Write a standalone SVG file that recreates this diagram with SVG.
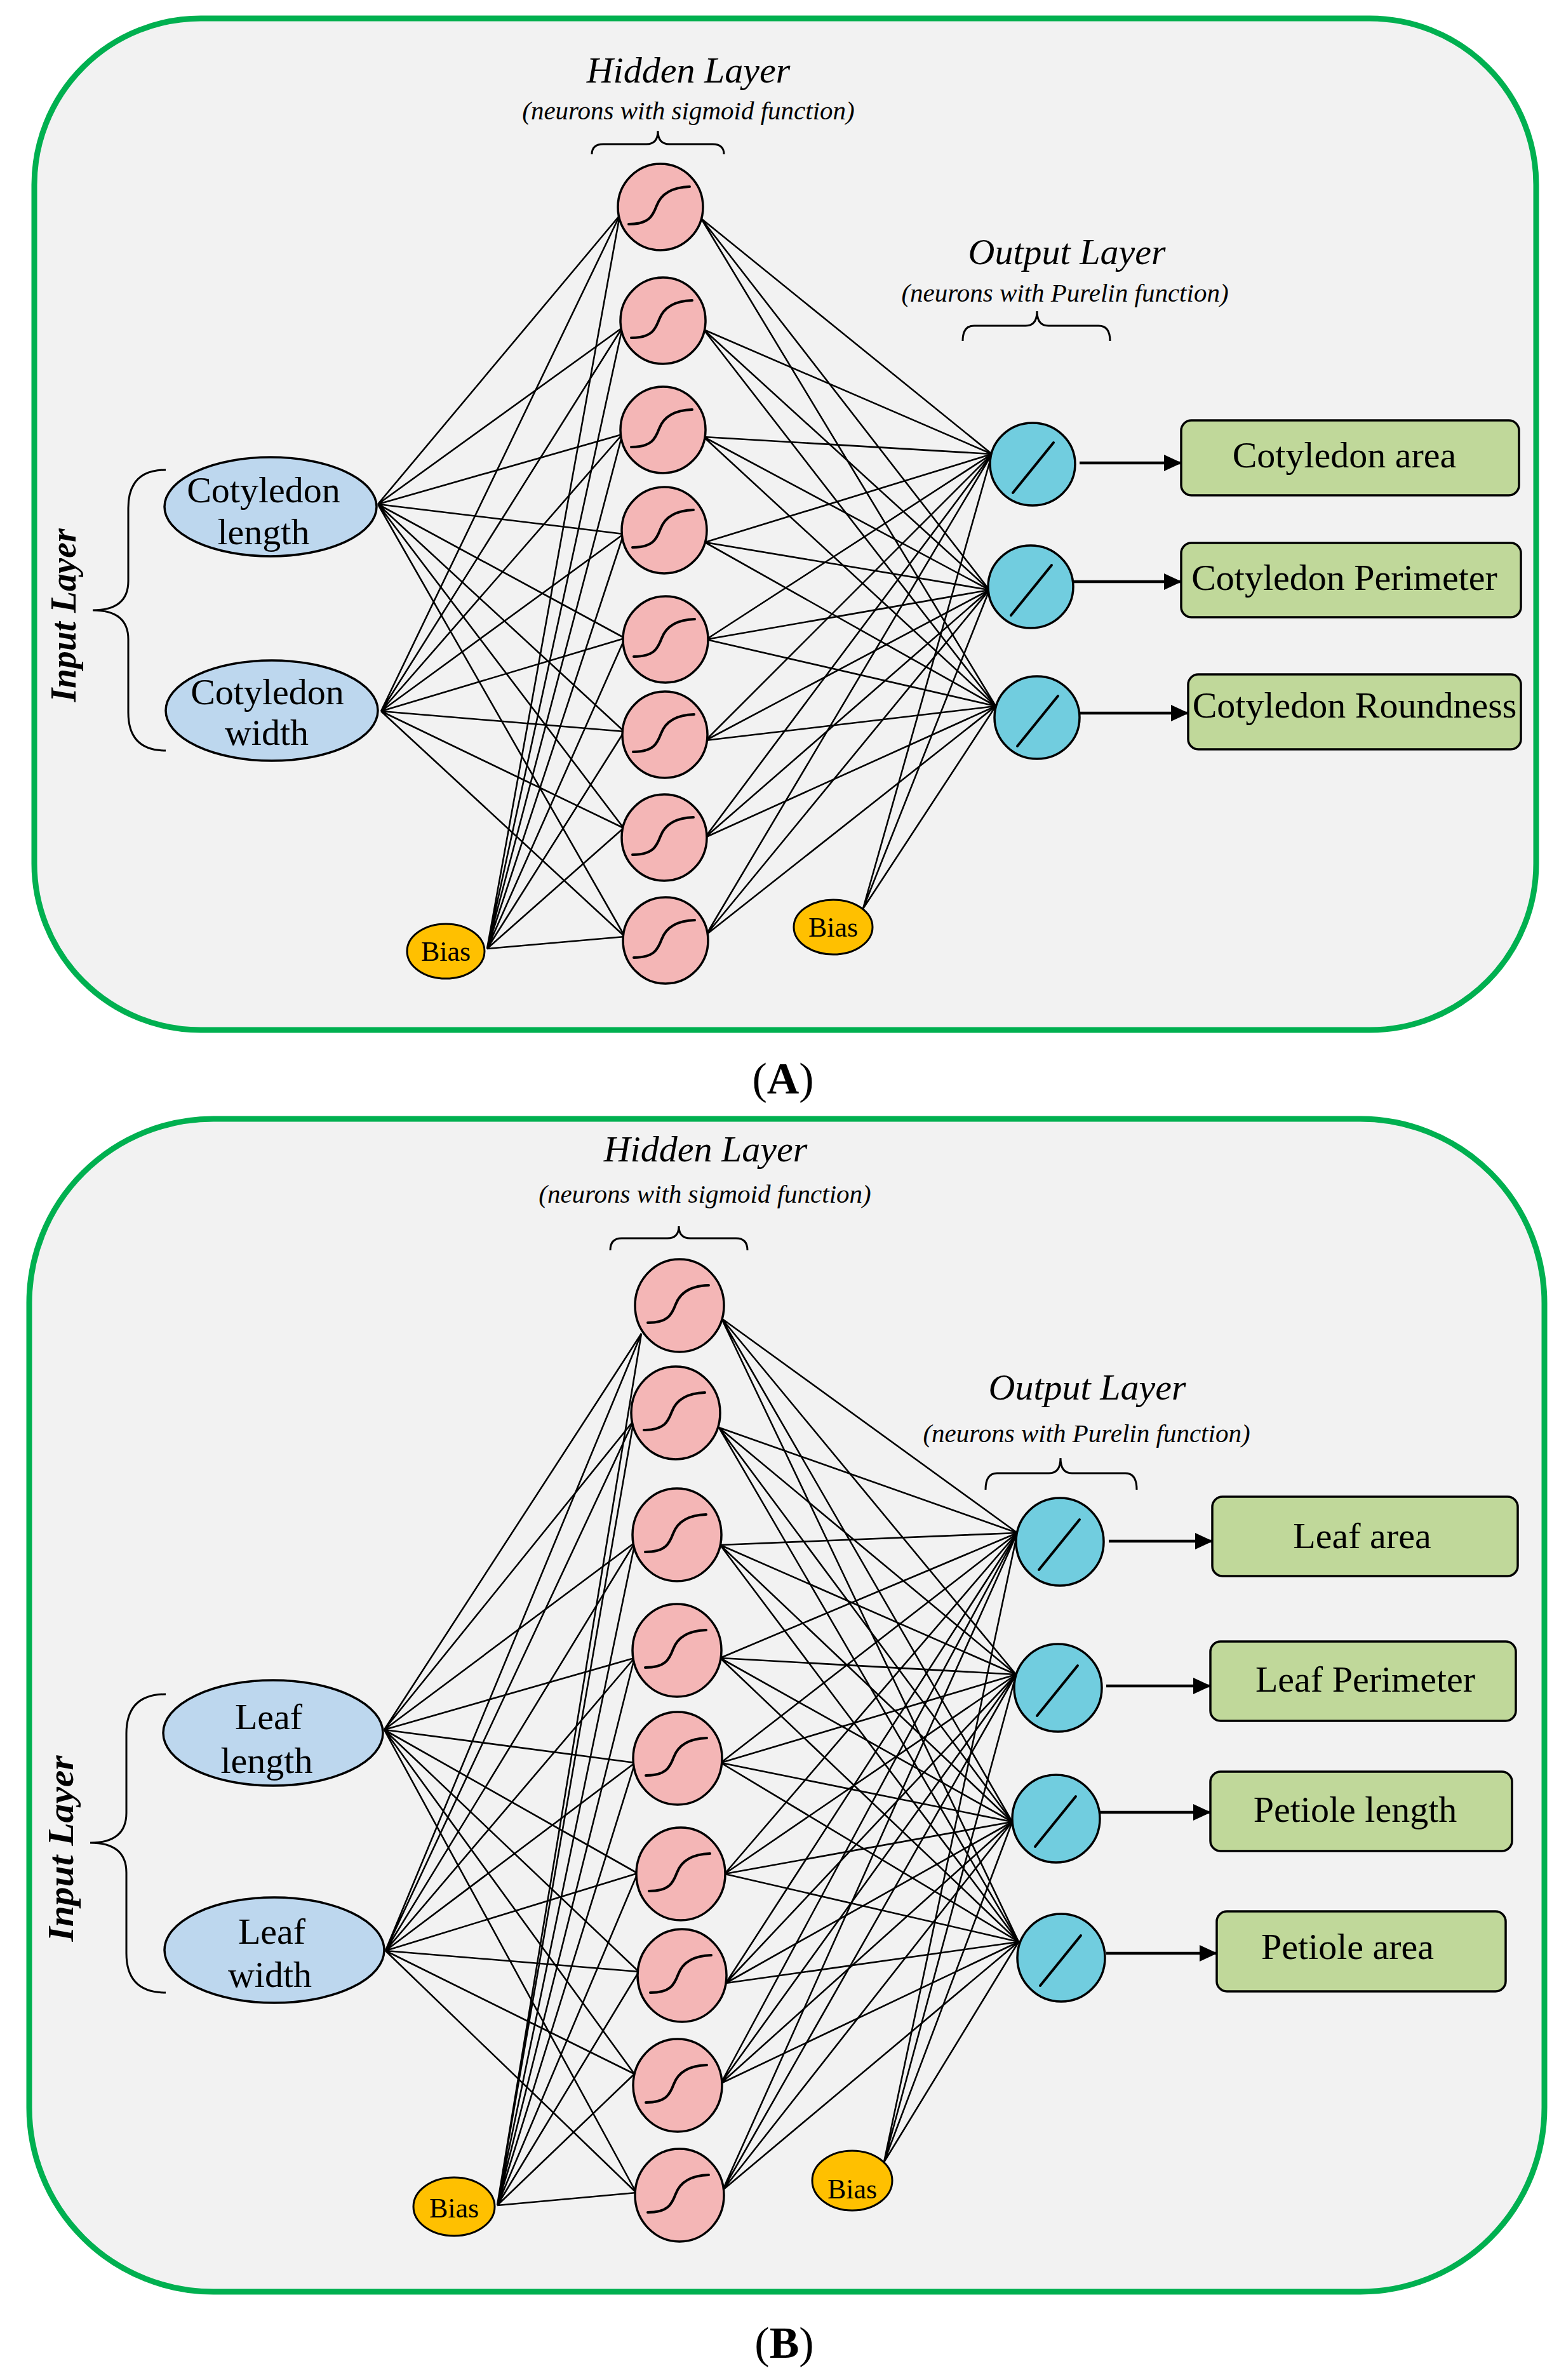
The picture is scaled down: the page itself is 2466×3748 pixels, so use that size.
<svg xmlns="http://www.w3.org/2000/svg" xmlns:xlink="http://www.w3.org/1999/xlink" width="2466" height="3748" viewBox="0 0 2466 3748">
<style>
.panel{fill:#f2f2f2;stroke:#00b050;stroke-width:9}
.inp{fill:#bdd7ee;stroke:#000;stroke-width:3.5}
.hid{fill:#f4b6b6;stroke:#000;stroke-width:3.5}
.out{fill:#71cddf;stroke:#000;stroke-width:3.5}
.bias{fill:#ffc000;stroke:#000;stroke-width:3}
.box{fill:#c0d89a;stroke:#000;stroke-width:3.5}
.fn{fill:none;stroke:#000;stroke-width:4;stroke-linecap:round}
.con{fill:none;stroke:#000;stroke-width:2.6}
.arrow{fill:none;stroke:#000;stroke-width:4.5}
.brace{fill:none;stroke:#000;stroke-width:3}
text{font-family:"Liberation Serif","Times New Roman",serif;fill:#000}
.lbl{font-size:58px;text-anchor:middle}
.ttl{font-size:58px;font-style:italic;text-anchor:middle}
.sub{font-size:41px;font-style:italic;text-anchor:middle}
.bt{font-size:44px;text-anchor:middle}
.il{font-size:56px;font-style:italic;font-weight:bold;text-anchor:middle}
.cap{font-size:70px;text-anchor:middle}
</style>
<defs>
<path id="sig" class="fn" d="M-50 27 C-18 27 -12 14 -6 -2 C0 -18 14 -31 46 -32"/>
<path id="lin" class="fn" d="M-32 42 L32 -37"/>
<marker id="arr" markerUnits="userSpaceOnUse" markerWidth="28" markerHeight="26" refX="27" refY="13" orient="auto"><path d="M0 0 L28 13 L0 26 z" fill="#000"/></marker>
</defs>
<rect width="2466" height="3748" fill="#fff"/>

<!-- ============ PANEL A ============ -->
<g id="panelA">
<rect class="panel" x="54" y="29" width="2365" height="1593" rx="262" ry="262"/>
</g>
<g id="a-hidden-title">
<text class="ttl" x="1084" y="130">Hidden Layer</text>
<text class="sub" x="1084" y="188">(neurons with sigmoid function)</text>
<path class="brace" d="M932 243 Q932 227 950 227 L1018 227 Q1036 227 1036 206 Q1036 227 1054 227 L1122 227 Q1140 227 1140 243"/>
</g>
<g id="a-output-title">
<text class="ttl" x="1680" y="416">Output Layer</text>
<text class="sub" x="1677" y="475">(neurons with Purelin function)</text>
<path class="brace" d="M1516 537 Q1516 513 1534 513 L1615 513 Q1633 513 1633 490 Q1633 513 1651 513 L1730 513 Q1748 513 1748 537"/>
</g>
<g id="a-input-title">
<path class="brace" d="M261 740 Q202 740 202 800 L202 915 Q202 961 146 961 Q202 961 202 1007 L202 1122 Q202 1182 261 1182"/>
<text class="il" transform="translate(119 969) rotate(-90)" textLength="273" lengthAdjust="spacingAndGlyphs">Input Layer</text>
</g>

<g id="a-connectors">
<path class="con" d="M595 794 L976 339 M595 794 L980 516 M595 794 L980 684 M595 794 L982 841 M595 794 L984 1005 M595 794 L983 1152 M595 794 L982 1304 M595 794 L984 1475"/>
<path class="con" d="M600 1120 L976 339 M600 1120 L980 516 M600 1120 L980 684 M600 1120 L982 841 M600 1120 L984 1005 M600 1120 L983 1152 M600 1120 L982 1304 M600 1120 L984 1475"/>
<path class="con" d="M767 1494 L976 339 M767 1494 L980 516 M767 1494 L980 684 M767 1494 L982 841 M767 1494 L984 1005 M767 1494 L983 1152 M767 1494 L982 1304 M767 1494 L984 1475"/>
<path class="con" d="M1104 344 L1562 715 M1104 344 L1558 929 M1104 344 L1568 1112"/>
<path class="con" d="M1108 519 L1562 715 M1108 519 L1558 929 M1108 519 L1568 1112"/>
<path class="con" d="M1108 688 L1562 715 M1108 688 L1558 929 M1108 688 L1568 1112"/>
<path class="con" d="M1110 854 L1562 715 M1110 854 L1558 929 M1110 854 L1568 1112"/>
<path class="con" d="M1112 1007 L1562 715 M1112 1007 L1558 929 M1112 1007 L1568 1112"/>
<path class="con" d="M1111 1166 L1562 715 M1111 1166 L1558 929 M1111 1166 L1568 1112"/>
<path class="con" d="M1110 1319 L1562 715 M1110 1319 L1558 929 M1110 1319 L1568 1112"/>
<path class="con" d="M1112 1472 L1562 715 M1112 1472 L1558 929 M1112 1472 L1568 1112"/>
<path class="con" d="M1359 1431 L1562 715 M1359 1431 L1558 929 M1359 1431 L1568 1112"/>
<line class="arrow" x1="1700" y1="729" x2="1860" y2="729" marker-end="url(#arr)"/>
<line class="arrow" x1="1691" y1="916" x2="1860" y2="916" marker-end="url(#arr)"/>
<line class="arrow" x1="1700" y1="1123" x2="1871" y2="1123" marker-end="url(#arr)"/>
</g>

<g id="a-in1"><ellipse class="inp" cx="426" cy="798" rx="167" ry="78"/><text class="lbl" x="415" y="791">Cotyledon</text><text class="lbl" x="415" y="857">length</text></g>
<g id="a-in2"><ellipse class="inp" cx="428" cy="1119" rx="167" ry="79"/><text class="lbl" x="421" y="1109">Cotyledon</text><text class="lbl" x="420" y="1173">width</text></g>

<g id="a-h1"><ellipse class="hid" cx="1040" cy="326" rx="67" ry="68"/><use href="#sig" x="1040" y="326"/></g>
<g id="a-h2"><ellipse class="hid" cx="1044" cy="505" rx="67" ry="68"/><use href="#sig" x="1044" y="505"/></g>
<g id="a-h3"><ellipse class="hid" cx="1044" cy="677" rx="67" ry="68"/><use href="#sig" x="1044" y="677"/></g>
<g id="a-h4"><ellipse class="hid" cx="1046" cy="835" rx="67" ry="68"/><use href="#sig" x="1046" y="835"/></g>
<g id="a-h5"><ellipse class="hid" cx="1048" cy="1007" rx="67" ry="68"/><use href="#sig" x="1048" y="1007"/></g>
<g id="a-h6"><ellipse class="hid" cx="1047" cy="1157" rx="67" ry="68"/><use href="#sig" x="1047" y="1157"/></g>
<g id="a-h7"><ellipse class="hid" cx="1046" cy="1319" rx="67" ry="68"/><use href="#sig" x="1046" y="1319"/></g>
<g id="a-h8"><ellipse class="hid" cx="1048" cy="1481" rx="67" ry="68"/><use href="#sig" x="1048" y="1481"/></g>

<g id="a-bias1"><ellipse class="bias" cx="702" cy="1498" rx="61" ry="43"/><text class="bt" x="702" y="1513">Bias</text></g>
<g id="a-bias2"><ellipse class="bias" cx="1312" cy="1460" rx="62" ry="43"/><text class="bt" x="1312" y="1475">Bias</text></g>

<g id="a-o1"><ellipse class="out" cx="1626" cy="731" rx="67" ry="65"/><use href="#lin" x="1627" y="734"/></g>
<g id="a-o2"><ellipse class="out" cx="1623" cy="924" rx="67" ry="65"/><use href="#lin" x="1624" y="927"/></g>
<g id="a-o3"><ellipse class="out" cx="1633" cy="1130" rx="67" ry="65"/><use href="#lin" x="1634" y="1133"/></g>

<g id="a-r1"><rect class="box" x="1860" y="662" width="532" height="118" rx="16"/><text class="lbl" x="2117" y="736">Cotyledon area</text></g>
<g id="a-r2"><rect class="box" x="1860" y="855" width="535" height="117" rx="16"/><text class="lbl" x="2117" y="929">Cotyledon Perimeter</text></g>
<g id="a-r3"><rect class="box" x="1871" y="1062" width="524" height="118" rx="16"/><text class="lbl" x="2133" y="1130">Cotyledon Roundness</text></g>

<g id="capA"><text class="cap" x="1233" y="1722">(<tspan font-weight="bold">A</tspan>)</text></g>

<!-- ============ PANEL B ============ -->
<g id="panelB">
<rect class="panel" x="46" y="1762" width="2386" height="1847" rx="290" ry="290"/>
</g>
<g id="b-hidden-title">
<text class="ttl" x="1111" y="1829" font-size="59">Hidden Layer</text>
<text class="sub" x="1110" y="1894" font-size="42">(neurons with sigmoid function)</text>
<path class="brace" d="M961 1969 Q961 1950 979 1950 L1051 1950 Q1069 1950 1069 1931 Q1069 1950 1087 1950 L1159 1950 Q1177 1950 1177 1969"/>
</g>
<g id="b-output-title">
<text class="ttl" x="1712" y="2204" font-size="59">Output Layer</text>
<text class="sub" x="1711" y="2271" font-size="42">(neurons with Purelin function)</text>
<path class="brace" d="M1552 2346 Q1552 2320 1570 2320 L1652 2320 Q1670 2320 1670 2296 Q1670 2320 1688 2320 L1772 2320 Q1790 2320 1790 2346"/>
</g>
<g id="b-input-title">
<path class="brace" d="M261 2668 Q199 2668 199 2730 L199 2855 Q199 2902 142 2902 Q199 2902 199 2949 L199 3076 Q199 3138 261 3138"/>
<text class="il" transform="translate(115 2911) rotate(-90)" font-size="58" textLength="293" lengthAdjust="spacingAndGlyphs">Input Layer</text>
</g>

<g id="b-connectors">
<path class="con" d="M605 2724 L1010 2100 M605 2724 L998 2237 M605 2724 L1000 2429 M605 2724 L999 2611 M605 2724 L1000 2776 M605 2724 L1004 2950 M605 2724 L1006 3105 M605 2724 L999 3266 M605 2724 L1002 3453"/>
<path class="con" d="M607 3072 L1010 2100 M607 3072 L998 2237 M607 3072 L1000 2429 M607 3072 L999 2611 M607 3072 L1000 2776 M607 3072 L1004 2950 M607 3072 L1006 3105 M607 3072 L999 3266 M607 3072 L1002 3453"/>
<path class="con" d="M783 3473 L1010 2100 M783 3473 L998 2237 M783 3473 L1000 2429 M783 3473 L999 2611 M783 3473 L1000 2776 M783 3473 L1004 2950 M783 3473 L1006 3105 M783 3473 L999 3266 M783 3473 L1002 3453"/>
<path class="con" d="M1136 2076 L1602 2414 M1136 2076 L1600 2637 M1136 2076 L1594 2869 M1136 2076 L1604 3058"/>
<path class="con" d="M1132 2248 L1602 2414 M1132 2248 L1600 2637 M1132 2248 L1594 2869 M1132 2248 L1604 3058"/>
<path class="con" d="M1134 2433 L1602 2414 M1134 2433 L1600 2637 M1134 2433 L1594 2869 M1134 2433 L1604 3058"/>
<path class="con" d="M1134 2611 L1602 2414 M1134 2611 L1600 2637 M1134 2611 L1594 2869 M1134 2611 L1604 3058"/>
<path class="con" d="M1135 2776 L1602 2414 M1135 2776 L1600 2637 M1135 2776 L1594 2869 M1135 2776 L1604 3058"/>
<path class="con" d="M1141 2951 L1602 2414 M1141 2951 L1600 2637 M1141 2951 L1594 2869 M1141 2951 L1604 3058"/>
<path class="con" d="M1143 3123 L1602 2414 M1143 3123 L1600 2637 M1143 3123 L1594 2869 M1143 3123 L1604 3058"/>
<path class="con" d="M1135 3281 L1602 2414 M1135 3281 L1600 2637 M1135 3281 L1594 2869 M1135 3281 L1604 3058"/>
<path class="con" d="M1138 3449 L1602 2414 M1138 3449 L1600 2637 M1138 3449 L1594 2869 M1138 3449 L1604 3058"/>
<path class="con" d="M1392 3405 L1602 2414 M1392 3405 L1600 2637 M1392 3405 L1594 2869 M1392 3405 L1604 3058"/>
<line class="arrow" x1="1746" y1="2427" x2="1909" y2="2427" marker-end="url(#arr)"/>
<line class="arrow" x1="1742" y1="2655" x2="1906" y2="2655" marker-end="url(#arr)"/>
<line class="arrow" x1="1732" y1="2854" x2="1906" y2="2854" marker-end="url(#arr)"/>
<line class="arrow" x1="1742" y1="3076" x2="1916" y2="3076" marker-end="url(#arr)"/>
</g>

<g id="b-in1"><ellipse class="inp" cx="430" cy="2729" rx="173" ry="83"/><text class="lbl" x="423" y="2723">Leaf</text><text class="lbl" x="420" y="2792">length</text></g>
<g id="b-in2"><ellipse class="inp" cx="432" cy="3071" rx="173" ry="83"/><text class="lbl" x="428" y="3061">Leaf</text><text class="lbl" x="425" y="3129">width</text></g>

<g id="b-h1"><ellipse class="hid" cx="1070" cy="2056" rx="70" ry="73"/><use href="#sig" x="1070" y="2056"/></g>
<g id="b-h2"><ellipse class="hid" cx="1064" cy="2225" rx="70" ry="73"/><use href="#sig" x="1064" y="2225"/></g>
<g id="b-h3"><ellipse class="hid" cx="1066" cy="2417" rx="70" ry="73"/><use href="#sig" x="1066" y="2417"/></g>
<g id="b-h4"><ellipse class="hid" cx="1066" cy="2599" rx="70" ry="73"/><use href="#sig" x="1066" y="2599"/></g>
<g id="b-h5"><ellipse class="hid" cx="1067" cy="2769" rx="70" ry="73"/><use href="#sig" x="1067" y="2769"/></g>
<g id="b-h6"><ellipse class="hid" cx="1072" cy="2951" rx="70" ry="73"/><use href="#sig" x="1072" y="2951"/></g>
<g id="b-h7"><ellipse class="hid" cx="1074" cy="3111" rx="70" ry="73"/><use href="#sig" x="1074" y="3111"/></g>
<g id="b-h8"><ellipse class="hid" cx="1067" cy="3284" rx="70" ry="73"/><use href="#sig" x="1067" y="3284"/></g>
<g id="b-h9"><ellipse class="hid" cx="1070" cy="3457" rx="70" ry="73"/><use href="#sig" x="1070" y="3457"/></g>

<g id="b-bias1"><ellipse class="bias" cx="715" cy="3475" rx="64" ry="46"/><text class="bt" x="715" y="3492">Bias</text></g>
<g id="b-bias2"><ellipse class="bias" cx="1342" cy="3434" rx="63" ry="47"/><text class="bt" x="1342" y="3462">Bias</text></g>

<g id="b-o1"><ellipse class="out" cx="1669" cy="2428" rx="69" ry="69"/><use href="#lin" x="1668" y="2430"/></g>
<g id="b-o2"><ellipse class="out" cx="1666" cy="2658" rx="69" ry="69"/><use href="#lin" x="1665" y="2660"/></g>
<g id="b-o3"><ellipse class="out" cx="1663" cy="2864" rx="69" ry="69"/><use href="#lin" x="1662" y="2866"/></g>
<g id="b-o4"><ellipse class="out" cx="1671" cy="3083" rx="69" ry="69"/><use href="#lin" x="1670" y="3085"/></g>

<g id="b-r1"><rect class="box" x="1909" y="2357" width="481" height="125" rx="16"/><text class="lbl" x="2145" y="2438">Leaf area</text></g>
<g id="b-r2"><rect class="box" x="1906" y="2585" width="481" height="125" rx="16"/><text class="lbl" x="2150" y="2664">Leaf Perimeter</text></g>
<g id="b-r3"><rect class="box" x="1906" y="2790" width="475" height="125" rx="16"/><text class="lbl" x="2134" y="2869">Petiole length</text></g>
<g id="b-r4"><rect class="box" x="1916" y="3010" width="455" height="126" rx="16"/><text class="lbl" x="2122" y="3085">Petiole area</text></g>

<g id="capB"><text class="cap" x="1235" y="3713">(<tspan font-weight="bold">B</tspan>)</text></g>
</svg>
